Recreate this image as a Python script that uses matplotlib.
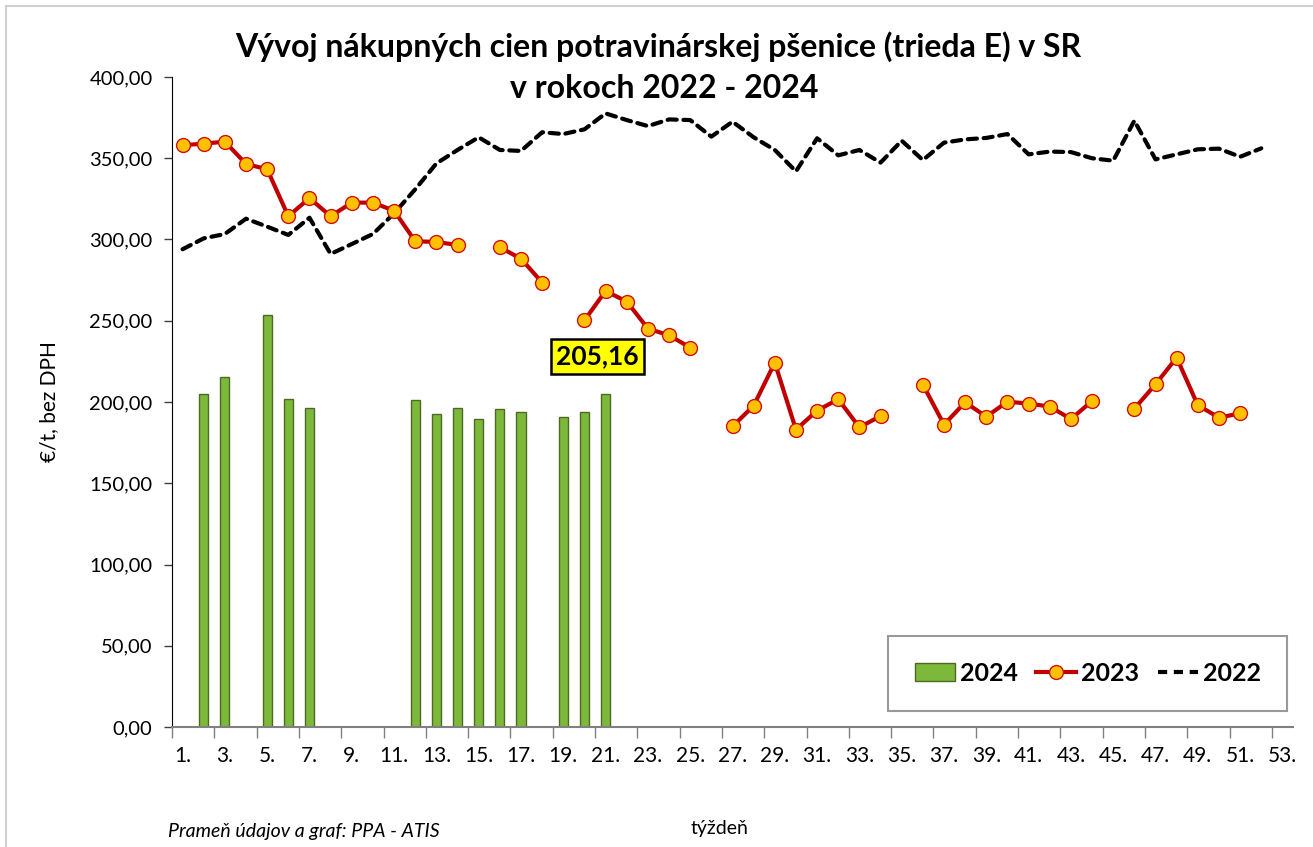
import numpy as np
import matplotlib
matplotlib.use("Agg")
import matplotlib.pyplot as plt
from matplotlib.lines import Line2D
from matplotlib.patches import Patch, Rectangle

plt.rcParams['font.family'] = ['Lato', 'DejaVu Sans']

nan = np.nan
weeks = list(range(1, 54))
week_labels = [f"{w}." for w in weeks]

# 2024 weekly prices (bars)
y2024 = [nan, 204.7, 215.6, nan, 253.3, 201.8, 196.3, nan, nan, nan,
         nan, 201.0, 192.4, 196.1, 189.5, 195.5, 193.6, nan, 191.0, 194.0,
         205.16] + [nan] * 32

# 2023 weekly prices
y2023 = [358.0, 359.0, 360.2, 346.5, 343.2, 314.3, 325.5, 314.3, 322.7, 322.7,
         317.7, 298.9, 298.5, 296.6, nan, 295.2, 288.2, 273.5, nan, 250.3,
         268.3, 261.8, 245.2, 241.0, 233.5, nan, 185.0, 197.7, 224.2, 183.0,
         194.7, 201.7, 184.4, 191.4, nan, 210.7, 186.1, 199.8, 191.0, 200.2,
         199.0, 197.2, 189.5, 200.6, nan, 195.9, 210.9, 227.3, 198.0, 190.4,
         193.0, nan, nan]

# 2022 weekly prices
y2022 = [294.0, 300.7, 303.4, 312.8, 307.9, 302.8, 313.4, 291.1, 297.2, 303.4,
         316.1, 330.9, 346.8, 355.1, 362.9, 355.1, 354.5, 366.0, 364.9, 367.8,
         377.6, 373.5, 369.8, 373.9, 373.5, 363.3, 372.5, 362.9, 355.1, 341.9,
         362.3, 351.8, 355.1, 347.3, 360.8, 348.9, 359.6, 361.6, 362.5, 364.9,
         352.4, 354.1, 353.8, 350.0, 348.5, 373.1, 349.3, 352.4, 355.5, 355.9,
         350.9, 356.1, nan]

label_week = 21
label_text = "205,16"

W, H = 1313, 847
fig = plt.figure(figsize=(W / 100, H / 100), dpi=100)
ax = fig.add_axes([172 / W, 1 - 727 / H, (1293 - 172) / W, (727 - 77) / H])

# chart border
fig.patches.append(Rectangle((6 / W, -0.05), 1.2, 1 - 6 / H + 0.05, transform=fig.transFigure,
                             fill=False, edgecolor='#d0d0d0', linewidth=1.5))

ax.bar(weeks, y2024, width=0.43, color='#7cb83a', edgecolor='#4f6a28', linewidth=1.0, zorder=2)
ax.plot(weeks, y2023, color='#c00000', linewidth=3.0, marker='o', markersize=10,
        markerfacecolor='#ffc000', markeredgecolor='#d01010', markeredgewidth=1.0, zorder=4)
ax.plot(weeks, y2022, color='black', linewidth=3.0, linestyle=(0, (2.2, 1.6)),
        dash_capstyle='round', zorder=3)

ax.annotate(label_text, xy=(label_week, y2024[label_week - 1]), xytext=(-8, 37),
            textcoords='offset pixels', ha='center', va='center', fontsize=19, fontweight='bold',
            bbox=dict(boxstyle='square,pad=0.2', facecolor='#ffff00', edgecolor='black', linewidth=1.8),
            zorder=6)

ax.set_xlim(0.5, 53.5)
ax.set_ylim(0, 400)
ax.set_yticks(np.arange(0, 401, 50))
ax.set_yticklabels([f"{v:.2f}".replace('.', ',') for v in np.arange(0, 401, 50)], fontsize=14.5)
ax.tick_params(axis='y', length=6, width=1, direction='out', pad=8, color='#404040')

ax.set_xticks(np.arange(0.5, 53.6, 2))
ax.set_xticklabels([])
ax.tick_params(axis='x', which='major', length=8, width=1, color='#808080')
ax.set_xticks(weeks[::2], minor=True)
ax.set_xticklabels(week_labels[::2], minor=True, fontsize=15)
ax.tick_params(axis='x', which='minor', length=0, pad=14)

for s in ['top', 'right']:
    ax.spines[s].set_visible(False)
ax.spines['left'].set_color('black')
ax.spines['bottom'].set_color('#808080')
ax.spines['bottom'].set_linewidth(1.5)

ax.set_ylabel("€/t, bez DPH", fontsize=15, labelpad=22)

handles = [Patch(facecolor='#7cb83a', edgecolor='#4f6a28'),
           Line2D([], [], color='#c00000', linewidth=3.0, marker='o', markersize=10,
                  markerfacecolor='#ffc000', markeredgecolor='#d01010'),
           Line2D([], [], color='black', linewidth=3.0, linestyle=(0, (2.2, 1.6)))]
leg = ax.legend(handles, ['2024', '2023', '2022'], ncol=3, loc='center', mode='expand',
                bbox_to_anchor=(0.639, 0.024, 0.356, 0.117), frameon=True, fancybox=False,
                prop={'weight': 'bold', 'size': 18}, handlelength=1.6, handletextpad=0.2,
                columnspacing=1.4, borderaxespad=0, borderpad=1.05)
leg.get_frame().set_edgecolor('#808080')
leg.get_frame().set_linewidth(1.5)

fig.text(658 / W, 1 - 47 / H, "Vývoj nákupných cien potravinárskej pšenice (trieda E) v SR",
         ha='center', va='center', fontsize=23, fontweight='bold')
fig.text(664 / W, 1 - 88 / H, "v rokoch 2022 - 2024",
         ha='center', va='center', fontsize=23, fontweight='bold')

fig.text(720 / W, 1 - 828 / H, "týždeň", ha='center', va='center', fontsize=14)
fig.text(168 / W, 1 - 831 / H, "Prameň údajov a graf: PPA - ATIS", ha='left', va='center',
         fontsize=14, style='italic')

fig.savefig("out.png", dpi=100)
